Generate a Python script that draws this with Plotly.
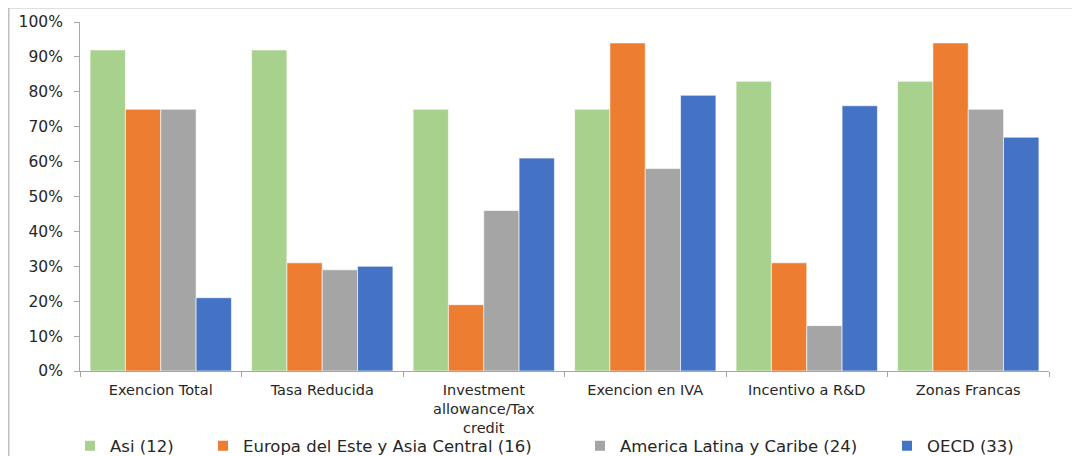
import plotly.graph_objects as go

categories = ["Exencion Total", "Tasa Reducida", "Investment<br>allowance/Tax<br>credit",
              "Exencion en IVA", "Incentivo a R&D", "Zonas Francas"]
series_names = ["Asi (12)", "Europa del Este y Asia Central (16)",
                "America Latina y Caribe (24)", "OECD (33)"]
asi = [92, 92, 75, 75, 83, 83]
europa = [75, 31, 19, 94, 31, 94]
america = [75, 29, 46, 58, 13, 75]
oecd = [21, 30, 61, 79, 76, 67]
y_tickvals = list(range(0, 101, 10))
y_ticktext = [f"{v}%" for v in y_tickvals]

colors = ["#A9D18E", "#ED7D31", "#A5A5A5", "#4472C4"]
values = [asi, europa, america, oecd]

OFF = 8  # page body margin
W, H = 1080 - OFF, 456 - OFF
L, T = 80 - OFF, 22 - OFF
pw, ph = 969, 349
R = W - L - pw
B = H - T - ph

def sx(px):  # screen pixel -> paper x
    return (px - OFF - L) / pw

def sy(py):  # screen pixel -> paper y
    return (T + ph - (py - OFF)) / ph

legend_text_x = [110, 243, 620, 927]
legend_keys = ["legend", "legend2", "legend3", "legend4"]

fig = go.Figure()
for name, vals, col, lk in zip(series_names, values, colors, legend_keys):
    fig.add_trace(go.Bar(x=categories, y=vals, name=name, marker_color=col,
                         marker_line=dict(color="white", width=0.6), legend=lk))

font_family = "DejaVu Sans"
layout_legends = {}
for lk, tx in zip(legend_keys, legend_text_x):
    layout_legends[lk] = dict(
        x=sx(tx - 40), y=sy(446), xanchor="left", yanchor="middle",
        orientation="h", bgcolor="rgba(0,0,0,0)", borderwidth=0,
        font=dict(family=font_family, size=16.5, color="#262626"),
        itemsizing="constant", tracegroupgap=0)

fig.update_layout(
    width=W, height=H,
    margin=dict(l=L, r=R, t=T, b=B, autoexpand=False),
    plot_bgcolor="white", paper_bgcolor="white",
    barmode="group", bargap=0.125, bargroupgap=0,
    showlegend=True,
    font=dict(family=font_family, size=14, color="#262626"),
    xaxis=dict(showline=True, linecolor="#A6A6A6", linewidth=1, ticks="outside",
               tickson="boundaries", ticklen=5, tickcolor="#A6A6A6", automargin=False,
               ticklabelstandoff=6,
               tickfont=dict(family=font_family, size=14.5, color="#262626"),
               showgrid=False, zeroline=False),
    yaxis=dict(range=[0, 100], tickvals=y_tickvals, ticktext=y_ticktext, showline=True,
               linecolor="#A6A6A6", linewidth=1, ticks="outside", ticklen=5, automargin=False,
               ticklabelstandoff=8,
               tickcolor="#A6A6A6", showgrid=False, zeroline=False,
               tickfont=dict(family=font_family, size=15.5, color="#262626")),
    shapes=[dict(type="rect", xref="paper", yref="paper",
                 x0=sx(8.75), x1=sx(1095),
                 y0=sy(480), y1=sy(7.75),
                 line=dict(color="#BFBFBF", width=1.5), fillcolor="rgba(0,0,0,0)",
                 layer="below")],
    **layout_legends,
)

fig.write_html("out.html")
